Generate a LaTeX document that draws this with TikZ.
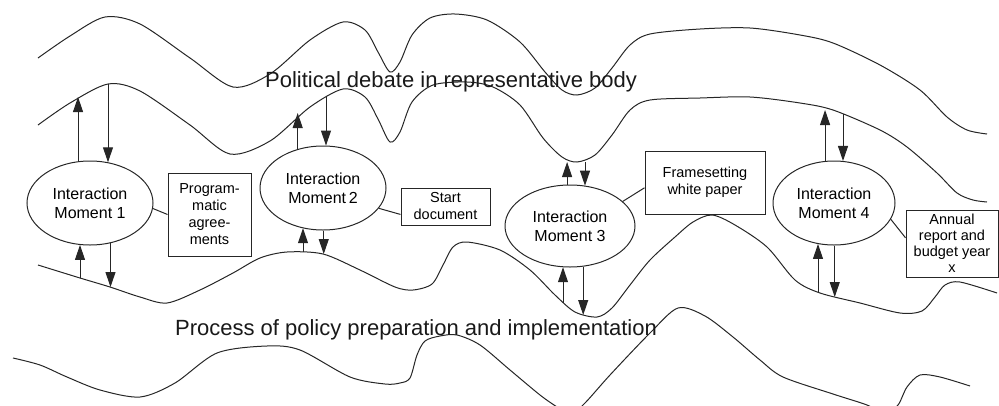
\documentclass[tikz,border=0pt]{standalone}
\usepackage{fontspec}
\setmainfont{Liberation Sans}
\usetikzlibrary{arrows.meta,shapes.geometric}
\tikzset{
  wave/.style={line width=1pt, draw=black!85},
  moment/.style={ellipse, draw=black!85, line width=1pt, minimum width=126pt, minimum height=84pt, inner sep=0pt, align=center, font=\fontsize{16}{19}\selectfont},
  doc/.style={rectangle, draw=black!85, line width=1pt, inner sep=0pt, align=center, font=\fontsize{14.5}{17}\selectfont},
  arr/.style={line width=1pt, draw=black!85, -{Triangle[length=15pt,width=10pt]}},
  link/.style={line width=1pt, draw=black!85},
  title/.style={anchor=base, font=\fontsize{22}{26}\selectfont, text=black!90}
}
\begin{document}
\begin{tikzpicture}[x=1pt,y=-1pt]
\useasboundingbox (0,0) rectangle (999,405);

% waves
\draw[wave] plot[smooth] coordinates {(38,58) (70,36) (105,17) (140,24) (190,58) (233,87) (270,74) (310,40) (343,22) (365,30) (378,52) (390,72) (400,62) (412,35) (430,18) (455,14) (487,20) (520,42) (545,72) (562,90) (577,95) (595,88) (612,68) (630,45) (650,34) (700,29) (750,28) (800,35) (833,43) (880,65) (920,90) (947,117) (967,130) (987,134)};
\draw[wave] plot[smooth] coordinates {(38,125) (70,103) (108,84) (140,91) (190,125) (230,154) (270,141) (310,107) (343,89) (365,97) (378,119) (390,142) (400,132) (412,102) (433,85) (467,82) (493,87) (520,105) (543,138) (562,157) (577,162) (595,155) (612,135) (630,110) (650,100) (700,98) (750,97) (800,103) (833,110) (880,130) (907,147) (937,173) (957,193) (973,200) (987,202)};
\draw[wave] plot[smooth] coordinates {(38,265) (80,278) (110,287) (140,297) (167,303) (200,290) (233,273) (260,258) (287,252) (323,254) (360,270) (395,287) (413,290) (432,284) (443,265) (453,247) (467,242) (500,250) (530,270) (555,295) (575,312) (597,317) (612,308) (630,285) (650,260) (675,237) (693,222) (712,215) (735,225) (767,247) (795,280) (820,293) (860,303) (900,313) (922,311) (935,297) (945,285) (960,282) (997,293)};
\begin{scope}
\clip (0,0) rectangle (999,405);
\draw[wave] plot[smooth] coordinates {(13,358) (40,365) (67,377) (100,390) (140,397) (175,383) (217,353) (267,346) (300,350) (350,377) (385,384) (400,383) (410,378) (417,355) (425,341) (440,336) (457,335) (480,345) (510,370) (540,395) (557,407) (570,415) (585,403) (610,375) (650,333) (678,308) (705,316) (733,337) (760,360) (783,377) (833,394) (867,405) (885,414) (898,405) (907,387) (920,375) (940,377) (970,386)};
\end{scope}

% titles
\node[title] (pol) at (451,87) {Political debate in representative body};
\node[title] (proc) at (416,335) {Process of policy preparation and implementation};

% interaction moments
\node[moment] (im1) at (90,203) {Interaction\\Moment 1};
\node[moment] (im2) at (323,188) {Interaction\\Moment\,2};
\node[moment, minimum width=130pt, minimum height=82pt] (im3) at (570,226) {Interaction\\Moment 3};
\node[moment, minimum width=122pt] (im4) at (834,203) {Interaction\\Moment 4};

% documents
\node[doc, minimum width=83pt, minimum height=83pt] (prog) at (209.5,214.5) {Program-\\matic\\agree-\\ments};
\node[doc, minimum width=89pt, minimum height=37pt] (start) at (445.5,206.5) {Start\\document};
\node[doc, minimum width=120pt, minimum height=63pt] (frame) at (705,182.5) {Framesetting\\white paper};
\node[doc, minimum width=92pt, minimum height=67pt, font=\fontsize{14.5}{16}\selectfont] (annual) at (952,243.5) {Annual\\report and\\budget year\\x};

% links
\draw[link] (im1.355) -- (prog.west);
\draw[link] (im2.340) -- (start.190);
\draw[link] (im3.25) -- (frame.185);
\draw[link] (im4.344) -- (annual.173);

% points on waves
\coordinate (b1u) at (78,97);
\coordinate (b1d) at (108,84);
\coordinate (c1u) at (80,278);
\coordinate (c1d) at (110,287);
\coordinate (b2u) at (298,113);
\coordinate (b2d) at (326,97);
\coordinate (c2u) at (303,252);
\coordinate (c2d) at (324,254);
\coordinate (b3u) at (567,162);
\coordinate (b3d) at (585,162);
\coordinate (c3u) at (563,303);
\coordinate (c3d) at (583,315);
\coordinate (b4u) at (825,110);
\coordinate (b4d) at (843,114);
\coordinate (c4u) at (818,293);
\coordinate (c4d) at (835,297);

% arrows
\draw[arr] (im1.106) -- (im1.106 |- b1u);
\draw[arr] (b1d) -- (b1d |- im1.66);
\draw[arr] (c1u) -- (c1u |- im1.256);
\draw[arr] (im1.297) -- (im1.297 |- c1d);

\draw[arr] (im2.123) -- (im2.123 |- b2u);
\draw[arr] (b2d) -- (b2d |- im2.86);
\draw[arr] (c2u) -- (c2u |- im2.243);
\draw[arr] (im2.271) -- (im2.271 |- c2d);

\draw[arr] (im3.94) -- (im3.94 |- b3u);
\draw[arr] (b3d) -- (b3d |- im3.69);
\draw[arr] (c3u) -- (c3u |- im3.260);
\draw[arr] (im3.288) -- (im3.288 |- c3d);

\draw[arr] (im4.102) -- (im4.102 |- b4u);
\draw[arr] (b4d) -- (b4d |- im4.78);
\draw[arr] (c4u) -- (c4u |- im4.248);
\draw[arr] (im4.271) -- (im4.271 |- c4d);
\end{tikzpicture}
\end{document}
